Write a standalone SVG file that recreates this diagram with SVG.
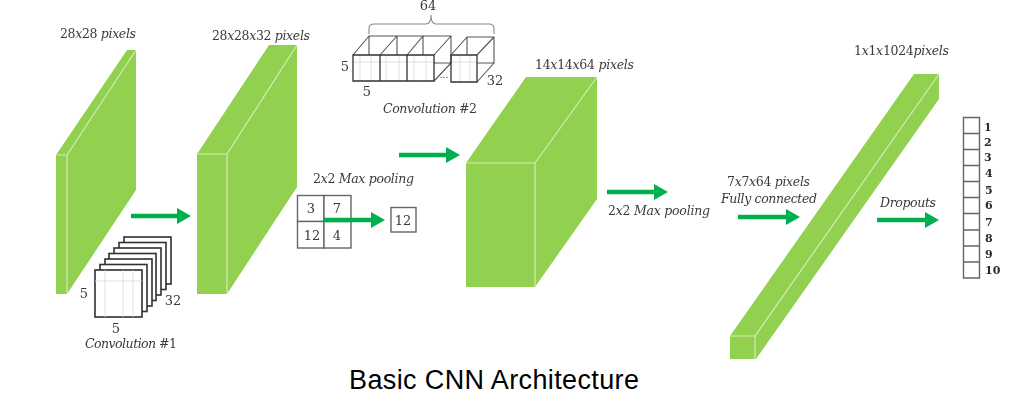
<svg xmlns="http://www.w3.org/2000/svg" width="1025" height="402" viewBox="0 0 1025 402">
<style>
.g{fill:#92d14f;stroke:none}
.e{fill:none;stroke:#d3ecb4;stroke-width:1.2}
.l{font-family:"DejaVu Serif",serif;font-size:12.500px;font-style:italic;fill:#3a3a3a}
.d{font-style:normal}
.n{font-family:"DejaVu Serif",serif;font-size:13px;fill:#3a3a3a;text-anchor:middle}
.b{font-family:"DejaVu Serif",serif;font-size:11px;font-weight:bold;fill:#2a2a2a}
.t{font-family:"Liberation Sans",sans-serif;font-size:27px;fill:#000}
.a{fill:none;stroke:#00b050;stroke-width:4.500;marker-end:url(#h)}
.k{fill:#fff;stroke:#303030;stroke-width:1.6}
.c{fill:none;stroke:#555;stroke-width:1.1}
.m{fill:none;stroke:#333;stroke-width:1.3}
.f{fill:none;stroke:#d8d8d8;stroke-width:.8}
.p{fill:#fff;stroke:#666;stroke-width:1.4}
</style>
<defs>
<marker id="h" markerUnits="userSpaceOnUse" markerWidth="15" markerHeight="16" refX="1" refY="8" orient="auto"><path d="M0 0L14 8L0 16Z" fill="#00b050"/></marker>
<filter id="s" x="-2%" y="-2%" width="104%" height="104%"><feGaussianBlur stdDeviation="0.45"/></filter>
</defs>
<g filter="url(#s)">
<g id="input-slab">
<path class="g" d="M56 155L127 50H136V190L67 294H56Z"/>
<path class="e" d="M56 155H67V294M67 155L136 50"/>
<text class="l" x="60" y="38" textLength="76"><tspan class="d">28</tspan>x<tspan class="d">28</tspan> pixels</text>
</g>
<g id="conv1-slab">
<path class="g" d="M197 154L269 45H297V187L227 294H197Z"/>
<path class="e" d="M197 154H227V294M227 154L297 45"/>
<text class="l" x="212" y="40" textLength="98"><tspan class="d">28</tspan>x<tspan class="d">28</tspan>x<tspan class="d">32</tspan> pixels</text>
</g>
<g id="convolution-1">
<rect class="k" x="124" y="237" width="47" height="47"/>
<rect class="k" x="119" y="242.500" width="47" height="47"/>
<rect class="k" x="114" y="248" width="47" height="47"/>
<rect class="k" x="109" y="253.500" width="47" height="47"/>
<rect class="k" x="105" y="259" width="47" height="47"/>
<rect class="k" x="100" y="264.500" width="47" height="47"/>
<rect class="k" x="95" y="270" width="47" height="47"/>
<path class="f" d="M105 270V317M123 270V317M133 270V317M95 281H142"/>
<text class="n" x="84" y="298">5</text>
<text class="n" x="173" y="305">32</text>
<text class="n" x="116" y="333">5</text>
<text class="l" x="85" y="348" textLength="92">Convolution #<tspan class="d">1</tspan></text>
</g>
<g id="max-pool-1">
<text class="l" x="313" y="183" textLength="101"><tspan class="d">2</tspan>x<tspan class="d">2</tspan> Max pooling</text>
<rect class="p" x="297.500" y="195.500" width="26.500" height="26"/>
<rect class="p" x="324" y="195.500" width="27" height="26"/>
<rect class="p" x="297.500" y="221.500" width="26.500" height="26.500"/>
<rect class="p" x="324" y="221.500" width="27" height="26.500"/>
<text class="n" x="311" y="213">3</text>
<text class="n" x="337" y="213">7</text>
<text class="n" x="312" y="240">12</text>
<text class="n" x="337" y="240">4</text>
<rect class="p" x="391" y="207.500" width="25" height="24.500"/>
<text class="n" x="403" y="225">12</text>
</g>
<g id="convolution-2">
<path class="f" d="M360 55V81M371 55V81M386 55V81M399 55V81M414 55V81M426 55V81M460 55V82M470 55V82M353 62H434M451 62H477"/>
<path class="c" d="M369 55V36H451V63H434M397 36V55M423 36V55M353 55L369 36M380 55L397 36M407 55L423 36M434 55L451 36M434 81L451 63"/>
<path class="m" d="M353 55H434V81H353ZM380 55V81M407 55V81"/>
<path class="m" d="M451 55H477V82H451Z"/>
<path class="c" d="M467 55V37H494V63H477M451 55L467 37M477 55L494 37M477 82L494 63"/>
<path class="c" style="stroke:#888" d="M369 34V29Q369 24 374 24H426Q431 24 431 15Q431 24 436 24H489Q494 24 494 29V34"/>
<text class="n" x="428" y="10">64</text>
<text class="n" x="345" y="71">5</text>
<text class="n" x="367" y="96">5</text>
<text class="n" x="495" y="85">32</text>
<text class="n" x="444" y="78" style="font-size:9px">...</text>
<text class="l" x="383" y="113" textLength="94">Convolution #<tspan class="d">2</tspan></text>
</g>
<g id="conv2-block">
<path class="g" d="M466 163L526 77H597V199L535 287H466Z"/>
<path class="e" d="M466 163H535V287M535 163L597 77"/>
<text class="l" x="535" y="69" textLength="99"><tspan class="d">14</tspan>x<tspan class="d">14</tspan>x<tspan class="d">64</tspan> pixels</text>
</g>
<g id="fc-beam">
<path class="g" d="M730 336L914 74H939V99L756 359H730Z"/>
<path class="e" d="M730 336H755V359M755 336L939 74"/>
<text class="l" x="854" y="55" textLength="95"><tspan class="d">1</tspan>x<tspan class="d">1</tspan>x<tspan class="d">1024</tspan>pixels</text>
</g>
<g id="labels-2">
<text class="l" x="608" y="215" textLength="102"><tspan class="d">2</tspan>x<tspan class="d">2</tspan> Max pooling</text>
<text class="l" x="727" y="186" textLength="83"><tspan class="d">7</tspan>x<tspan class="d">7</tspan>x<tspan class="d">64</tspan> pixels</text>
<text class="l" x="721" y="203" textLength="96">Fully connected</text>
<text class="l" x="880" y="207" textLength="56">Dropouts</text>
</g>
<g id="output-column">
<path class="p" d="M963.500 117.500H979.500V278H963.500ZM963.500 133.500H979.500M963.500 149.500H979.500M963.500 165.500H979.500M963.500 181.500H979.500M963.500 197.500H979.500M963.500 213.500H979.500M963.500 230H979.500M963.500 246H979.500M963.500 262H979.500"/>
<text class="b" x="984" y="131">1</text>
<text class="b" x="984" y="146">2</text>
<text class="b" x="984" y="161">3</text>
<text class="b" x="985" y="177">4</text>
<text class="b" x="985" y="194">5</text>
<text class="b" x="985" y="209">6</text>
<text class="b" x="985" y="226">7</text>
<text class="b" x="985" y="242">8</text>
<text class="b" x="985" y="258">9</text>
<text class="b" x="985" y="274">10</text>
</g>
<g id="connectors">
<path class="a" d="M131 216H178"/>
<path class="a" d="M324 220H372"/>
<path class="a" d="M399 155H447"/>
<path class="a" d="M607 192H655"/>
<path class="a" d="M738 217H787"/>
<path class="a" d="M877 220H926"/>
</g>
</g>
<g id="title"><text class="t" x="349" y="389" textLength="290">Basic CNN Architecture</text></g>
</svg>
